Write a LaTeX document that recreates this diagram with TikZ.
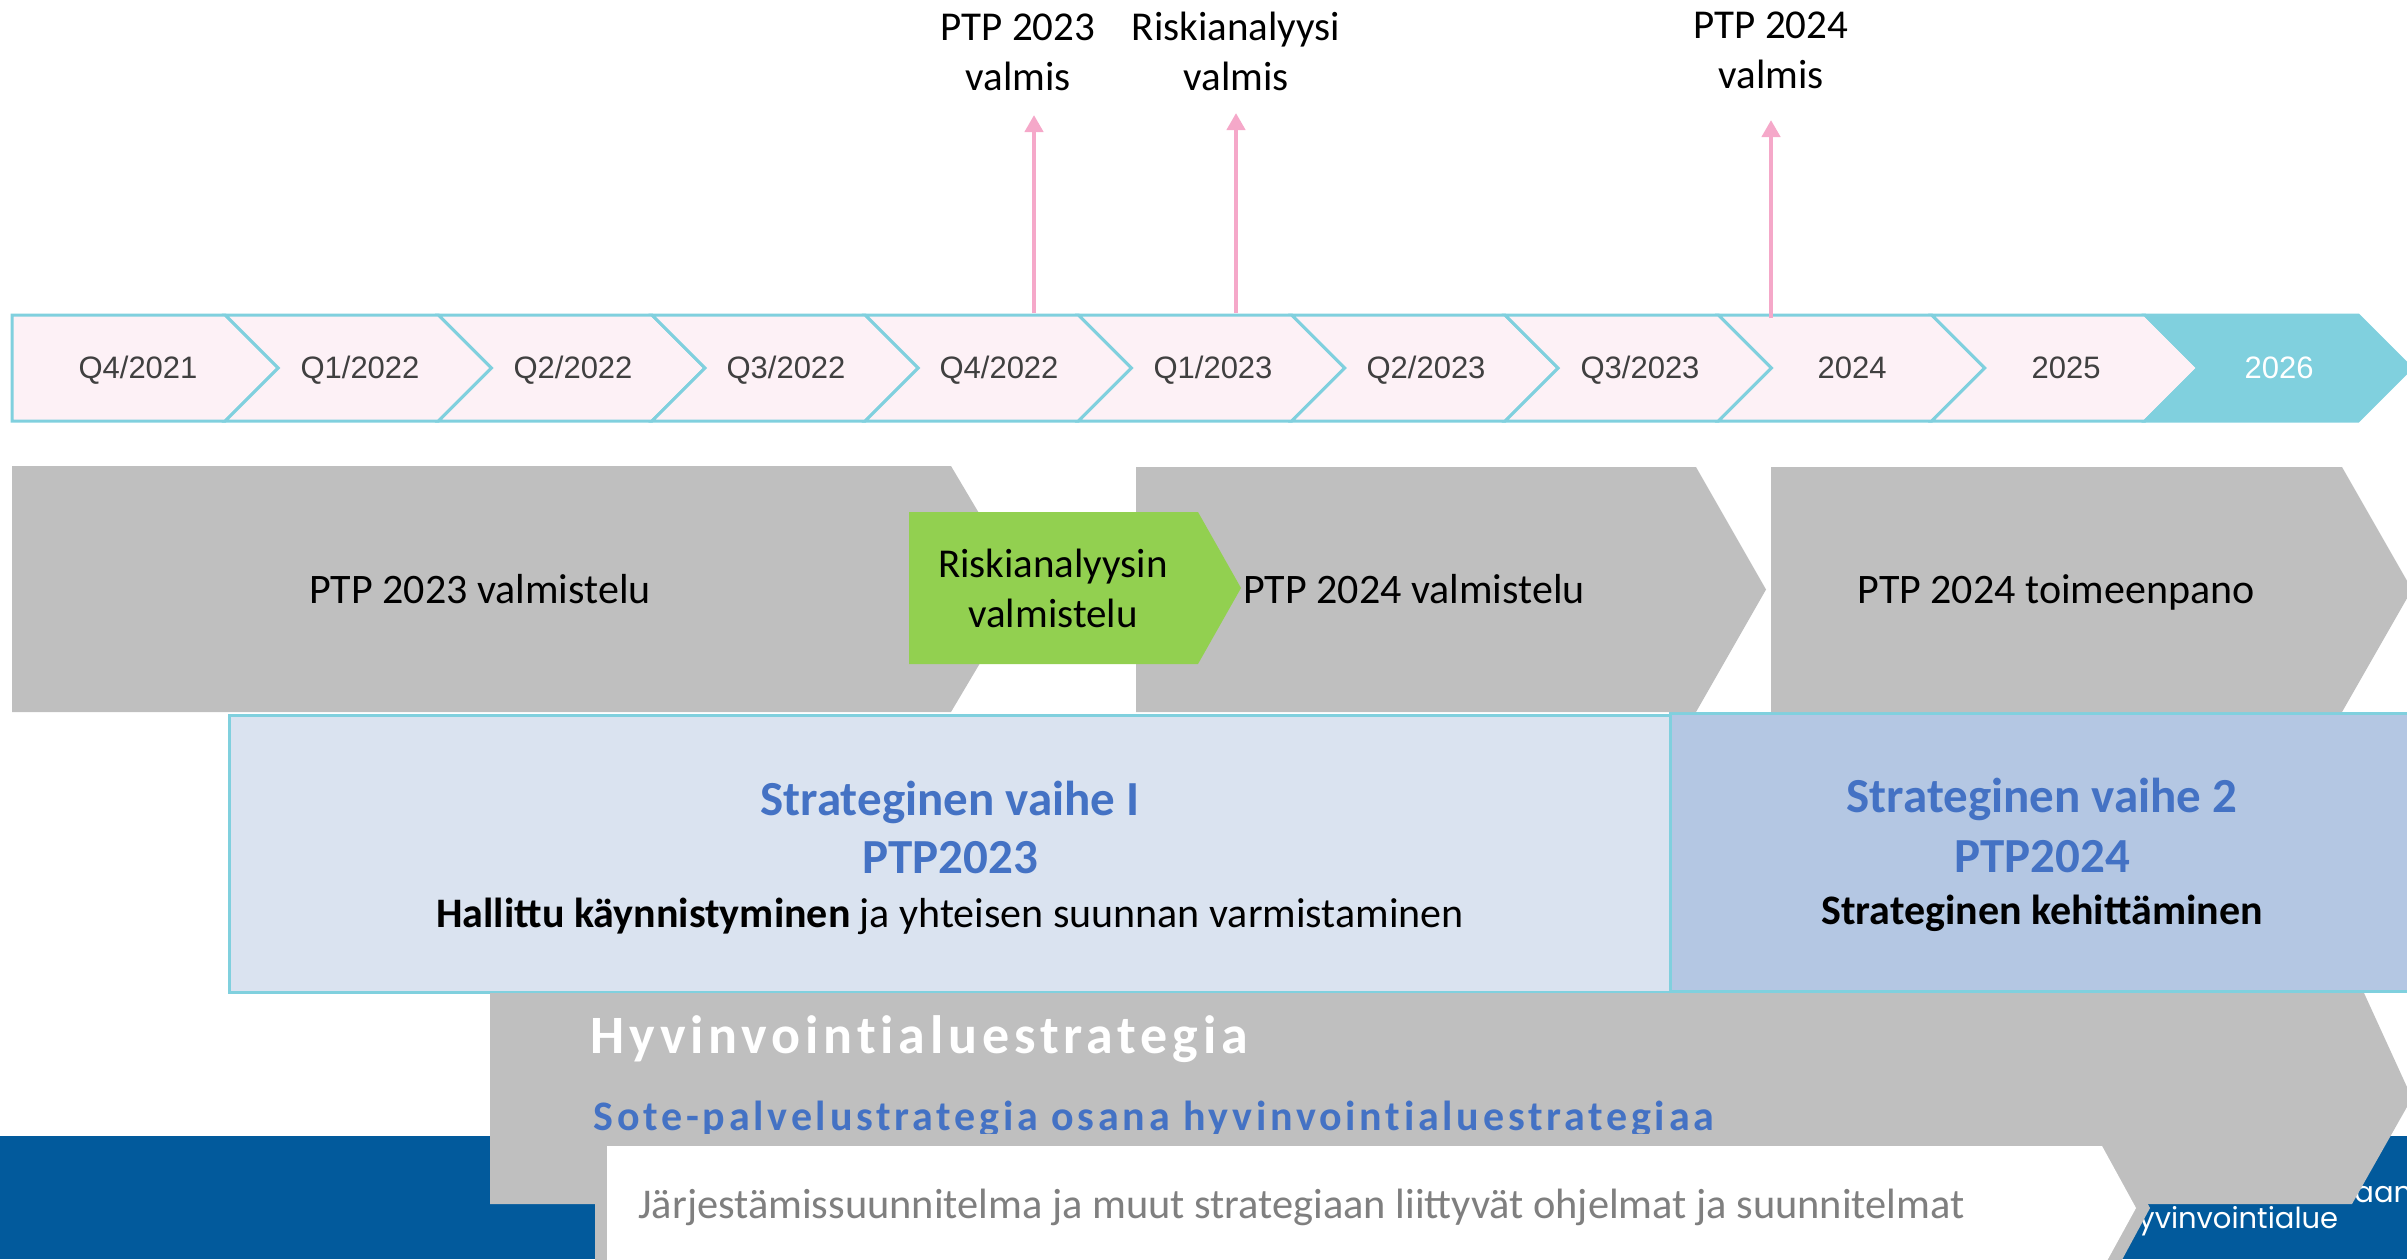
\documentclass[tikz,border=0pt]{standalone}
\usepackage{fontspec}
\setmainfont{Carlito}
\newfontfamily\arialfont{Liberation Sans}
\newfontfamily\spacedfont[LetterSpace=9, Ligatures=NoCommon]{Carlito}
\newfontfamily\logofont{Poppins}
\usetikzlibrary{positioning, arrows.meta, calc}

\definecolor{tlline}{RGB}{128,208,222}
\definecolor{tlfill}{RGB}{253,241,246}
\definecolor{tldark}{RGB}{64,64,64}
\definecolor{mspink}{RGB}{245,168,201}
\definecolor{phasegray}{RGB}{191,191,191}
\definecolor{riskgreen}{RGB}{146,208,80}
\definecolor{stageonebg}{RGB}{218,227,240}
\definecolor{stagetwobg}{RGB}{180,199,227}
\definecolor{headblue}{RGB}{68,114,196}
\definecolor{bandblue}{RGB}{2,90,156}
\definecolor{notegray}{RGB}{127,127,127}

\begin{document}
\begin{tikzpicture}[
    x=0.5pt, y=-0.5pt, % one unit = one pixel, y downwards
    >=Latex,
    % Styles
    tlseg/.style={ % Timeline segment
        draw=tlline,
        fill=tlfill,
        line width=1.5pt
    },
    chev/.style={ % Segment with notch on the left
        insert path={-- ++(213.3,0) -- ++(53,53) -- ++(-53,53) -- ++(-213.3,0) -- ++(53,-53) -- cycle}
    },
    chevflat/.style={ % First segment, flat left side
        insert path={-- ++(213.3,0) -- ++(53,53) -- ++(-53,53) -- ++(-213.3,0) -- cycle}
    },
    tltext/.style={ % Timeline labels
        font=\arialfont\fontsize{15.5}{18}\selectfont,
        text=tldark,
        anchor=base
    },
    milestone/.style={ % Milestone arrows
        draw=mspink,
        line width=2.2pt,
        -{Triangle[width=9pt,length=8.5pt]}
    },
    mstext/.style={ % Milestone labels (base = last line)
        font=\fontsize{20.5}{25}\selectfont,
        align=center,
        anchor=base
    },
    phase/.style={ % Grey phase arrows
        fill=phasegray
    },
    risk/.style={ % Green phase
        fill=riskgreen
    },
    phasetext/.style={ % Text in phases
        font=\fontsize{21}{25}\selectfont,
        anchor=base
    },
    stage/.style={ % Strategy stages
        draw=tlline,
        line width=1.5pt
    },
    stagehead/.style={ % Stage headings
        font=\bfseries\fontsize{24.5}{29}\selectfont,
        text=headblue,
        anchor=base
    },
    stagedesc/.style={ % Stage descriptions
        font=\fontsize{21}{25}\selectfont,
        anchor=base
    },
    band/.style={ % Blue band at the bottom
        fill=bandblue
    },
    logotext/.style={ % Text in the blue band
        font=\logofont\fontsize{14.5}{17}\selectfont,
        text=white,
        inner sep=0pt,
        anchor=base west
    },
    bigtitle/.style={ % Strategy title
        font=\spacedfont\bfseries\fontsize{27}{32}\selectfont,
        text=white,
        inner sep=0pt,
        anchor=base west
    },
    subtitle/.style={ % Strategy subtitle
        font=\spacedfont\bfseries\fontsize{21}{25}\selectfont,
        text=headblue,
        inner sep=0pt,
        anchor=base west
    },
    notetext/.style={ % Text in white box
        font=\fontsize{21.2}{25}\selectfont,
        text=notegray,
        inner sep=0pt,
        anchor=base west
    }
]
    \useasboundingbox (0,0) rectangle (2407,1259);
    \clip (0,0) rectangle (2407,1259);

    % Timeline
    \draw [tlseg] (12,315) [chevflat];
    \draw [tlseg] (225.3,315) [chev];
    \draw [tlseg] (438.6,315) [chev];
    \draw [tlseg] (651.9,315) [chev];
    \draw [tlseg] (865.2,315) [chev];
    \draw [tlseg] (1078.5,315) [chev];
    \draw [tlseg] (1291.8,315) [chev];
    \draw [tlseg] (1505.1,315) [chev];
    \draw [tlseg] (1718.4,315) [chev];
    \draw [tlseg] (1931.7,315) [chev];
    \draw [tlseg, fill=tlline] (2145,315) [chev];

    \node [tltext] (q421) at (138,378) {Q4/2021};
    \node [tltext] (q122) at (360,378) {Q1/2022};
    \node [tltext] (q222) at (573,378) {Q2/2022};
    \node [tltext] (q322) at (786,378) {Q3/2022};
    \node [tltext] (q422) at (999,378) {Q4/2022};
    \node [tltext] (q123) at (1213,378) {Q1/2023};
    \node [tltext] (q223) at (1426,378) {Q2/2023};
    \node [tltext] (q323) at (1640,378) {Q3/2023};
    \node [tltext] (y24) at (1852,378) {2024};
    \node [tltext] (y25) at (2066,378) {2025};
    \node [tltext, text=white] (y26) at (2279,378) {2026};

    % Milestones
    \node [mstext] (ms1) at (1018,90) {PTP 2023\\valmis};
    \node [mstext] (ms2) at (1236,90) {Riskianalyysi\\valmis};
    \node [mstext] (ms3) at (1771,88) {PTP 2024\\valmis};
    \coordinate (ms1foot) at (1034,313);
    \coordinate (ms1head) at (1034,115);
    \coordinate (ms2foot) at (1236,313);
    \coordinate (ms2head) at (1236,113);
    \coordinate (ms3foot) at (1771,318);
    \coordinate (ms3head) at (1771,120);
    \draw [milestone] (ms1foot) -- (ms1head);
    \draw [milestone] (ms2foot) -- (ms2head);
    \draw [milestone] (ms3foot) -- (ms3head);

    % Strategy stages
    \draw [stage, fill=stageonebg] (229,715) rectangle (1670,992);
    \draw [stage, fill=stagetwobg] (1670,713) rectangle (2420,991);

    \node [stagehead] (s1title) at (950,815) {Strateginen vaihe I};
    \node [stagehead] (s1ptp) at (950,873) {PTP2023};
    \node [stagedesc] (s1desc) at (950,927) {\textbf{Hallittu käynnistyminen} ja yhteisen suunnan varmistaminen};
    \node [stagehead] (s2title) at (2042,812) {Strateginen vaihe 2};
    \node [stagehead] (s2ptp) at (2042,872) {PTP2024};
    \node [stagedesc, font=\bfseries\fontsize{21}{25}\selectfont] (s2desc) at (2042,924) {Strateginen kehittäminen};

    % Phases
    \fill [phase] (12,466) -- (951,466) -- (1024,589) -- (951,712) -- (12,712) -- cycle;
    \fill [phase] (1136,467) -- (1696,467) -- (1766,589.5) -- (1696,712) -- (1136,712) -- cycle;
    \fill [phase] (1771,467) -- (2342,467) -- (2412,589.5) -- (2342,712) -- (1771,712) -- cycle;
    \fill [risk] (909,512) -- (1198,512) -- (1241,588) -- (1198,664) -- (909,664) -- cycle;

    \node [phasetext] (pa) at (480,603) {PTP 2023 valmistelu};
    \node [phasetext, inner sep=0pt, anchor=base west] (pb) at (1243,603) {PTP 2024 valmistelu};
    \node [phasetext] (pc) at (2056,603) {PTP 2024 toimeenpano};
    \node [mstext] (rk) at (1053,627) {Riskianalyysin\\valmistelu};

    % Blue band
    \fill [band] (0,1136) rectangle (2407,1259);
    \node [logotext] (lg1) at (2354,1202) {aan};
    \node [logotext] (lg2) at (2138,1228) {yvinvointialue};

    % Strategy arrow
    \fill [phase] (490,993) -- (2364,993) -- (2412,1098) -- (2352,1204) -- (490,1204) -- cycle;
    \node [bigtitle] (hv) at (590,1053) {Hyvinvointialuestrategia};
    \begin{scope}
        \clip (0,0) rectangle (2407,1136);
        \node [subtitle] (sote) at (593,1130) {Sote-palvelustrategia osana hyvinvointialuestrategiaa};
    \end{scope}

    % Plans
    \fill [phase] (595,1134) -- (2110,1134) -- (2150,1208) -- (2110,1282) -- (595,1282) -- cycle;
    \fill [white] (607,1146) -- (2102,1146) -- (2136,1208) -- (2102,1270) -- (607,1270) -- cycle;
    \node [notetext] (plans) at (638,1218) {Järjestämissuunnitelma ja muut strategiaan liittyvät ohjelmat ja suunnitelmat};
\end{tikzpicture}
\end{document}
